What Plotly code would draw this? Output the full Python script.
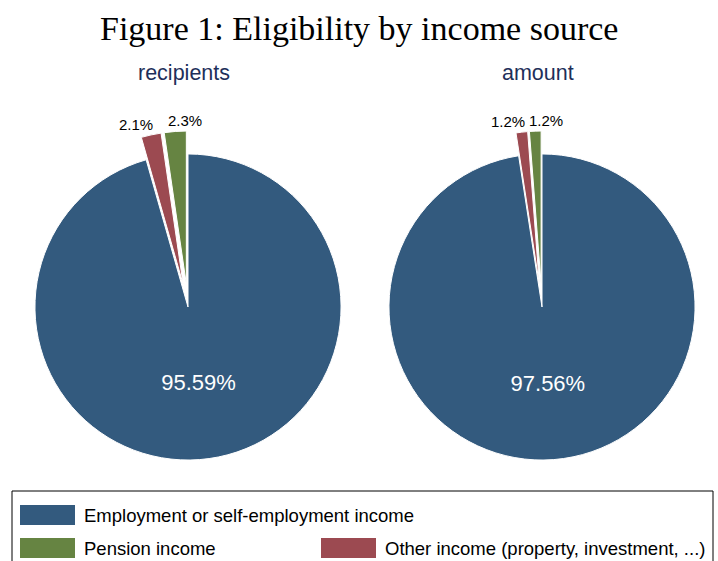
import math
import plotly.graph_objects as go

# Eligibility shares by income source (percent)
categories = ["Employment or self-employment income", "Pension income",
              "Other income (property, investment, ...)"]
recipients = [95.59, 2.31, 2.10]
amount = [97.56, 1.22, 1.22]
panel_titles = ["recipients", "amount"]

colors = ["#335a7e", "#668442", "#9c4a51"]
W, H = 718, 561

# pie draws clockwise from 12 o'clock: employment, other, pension
pie_order = [0, 2, 1]
PULL = 0.15
SIDE = 352           # domain size in px
CY = 307             # pie centre (px from top)
CX = [188, 542]      # pie centres (px from left)


def px_x(v):
    return v / W


def px_y(v):
    return 1 - v / H


fig = go.Figure()
annotations = []
r = SIDE / (2 * (1 + PULL))
for i, vals in enumerate([recipients, amount]):
    labs = [categories[k] for k in pie_order]
    vs = [vals[k] for k in pie_order]
    cols = [colors[k] for k in pie_order]
    fig.add_trace(go.Pie(
        labels=labs,
        values=vs,
        sort=False,
        direction="clockwise",
        rotation=0,
        pull=[0, PULL, PULL],
        marker=dict(colors=cols, line=dict(color="white", width=1)),
        texttemplate=["%{percent:.2%}", "", ""],
        textposition=["inside", "none", "none"],
        insidetextorientation="horizontal",
        insidetextfont=dict(color="white", size=22, family="Liberation Sans"),
        showlegend=False,
        hoverinfo="label+percent",
        domain=dict(x=[px_x(CX[i] - SIDE / 2), px_x(CX[i] + SIDE / 2)],
                    y=[px_y(CY + SIDE / 2), px_y(CY - SIDE / 2)]),
    ))
    # outside labels for the small pulled slices, placed on each slice bisector
    total = sum(vs)
    cum = 0
    for j, v in enumerate(vs):
        mid = (cum + v / 2) / total * 2 * math.pi
        cum += v
        if j == 0:
            continue
        R = r * (1 + PULL) + 11
        lx = CX[i] + math.sin(mid) * R
        ly = CY - math.cos(mid) * R
        red = pie_order[j] == 2
        annotations.append(dict(
            text="%.1f%%" % (v / total * 100), x=px_x(lx), y=px_y(ly),
            xref="paper", yref="paper", showarrow=False,
            xanchor="right" if red else "left", yanchor="middle",
            xshift=6 if red else -8,
            font=dict(family="Liberation Sans", size=15, color="black")))

annotations.append(dict(text="Figure 1: Eligibility by income source", x=0.5, y=px_y(28),
                        xref="paper", yref="paper", showarrow=False,
                        xanchor="center", yanchor="middle",
                        font=dict(family="Liberation Serif", size=34, color="black")))
for i, t in enumerate(panel_titles):
    annotations.append(dict(text=t, x=px_x(CX[i] - 4), y=px_y(73),
                            xref="paper", yref="paper", showarrow=False,
                            xanchor="center", yanchor="middle",
                            font=dict(family="Liberation Sans", size=21.5, color="#1e2f5a")))

# legend box drawn by hand (wide swatches)
shapes = [dict(type="rect", xref="paper", yref="paper",
               x0=px_x(12), x1=px_x(713), y0=px_y(575), y1=px_y(491),
               line=dict(color="black", width=1), fillcolor="white", layer="below")]
legend_pos = [(20, 515), (20, 548), (321, 548)]
for k, (lx, ly) in enumerate(legend_pos):
    shapes.append(dict(type="rect", xref="paper", yref="paper",
                       x0=px_x(lx), x1=px_x(lx + 55), y0=px_y(ly + 10), y1=px_y(ly - 10),
                       line=dict(width=0), fillcolor=colors[k]))
    annotations.append(dict(text=categories[k], x=px_x(lx + 62), y=px_y(ly),
                            xref="paper", yref="paper", showarrow=False,
                            xanchor="left", yanchor="middle",
                            font=dict(family="Liberation Sans", size=18.5, color="black")))

fig.update_layout(
    width=W, height=H,
    margin=dict(l=0, r=0, t=0, b=0, pad=0, autoexpand=False),
    paper_bgcolor="white",
    plot_bgcolor="white",
    annotations=annotations,
    shapes=shapes,
)
fig.write_html("out.html", config={"displayModeBar": False},
               post_script="document.body.style.margin='0';")
